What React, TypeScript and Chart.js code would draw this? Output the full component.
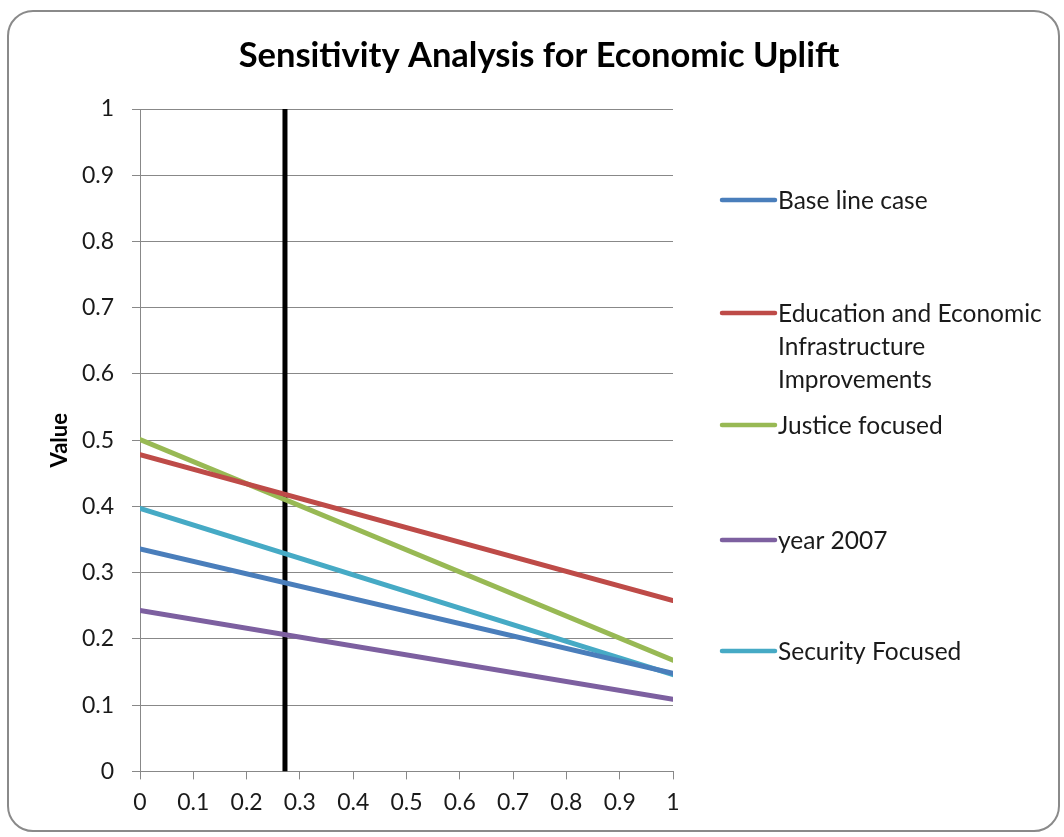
import React, { useEffect, useRef } from "react";
import { Chart, registerables } from "chart.js";

Chart.register(...registerables);

const xValues = [0, 1];
const seriesNames = [
  "Base line case",
  "Education and Economic\nInfrastructure\nImprovements",
  "Justice focused",
  "year 2007",
  "Security Focused",
];
const baseLine = [0.336, 0.148];
const education = [0.478, 0.258];
const justice = [0.501, 0.168];
const year2007 = [0.243, 0.109];
const security = [0.397, 0.146];
const seriesValues = [baseLine, education, justice, year2007, security];
const seriesColors = ["#4A7EBB", "#BE4B48", "#98B954", "#7D60A0", "#46AAC5"];
const markerX = [0.272, 0.272];
const markerY = [0, 1];
const titleText = "Sensitivity Analysis for Economic Uplift";
const yTitle = "Value";

const FONT = "Lato, 'Open Sans', sans-serif";

const fmt = (v: any) => String(Number(Number(v).toFixed(1)));

const legendPlugin = {
  id: "sideLegend",
  afterDraw(chart: any) {
    const ctx = chart.ctx;
    const rows = [200, 313, 425, 540, 651];
    const x0 = 722;
    const x1 = 775;
    ctx.save();
    ctx.font = `24.5px ${FONT}`;
    ctx.textBaseline = "middle";
    ctx.textAlign = "left";
    let k = 0;
    chart.data.datasets.forEach((ds: any) => {
      if (!ds.legendText) return;
      const y = rows[k++];
      ctx.strokeStyle = ds.borderColor;
      ctx.lineWidth = 4.5;
      ctx.lineCap = "round";
      ctx.beginPath();
      ctx.moveTo(x0, y);
      ctx.lineTo(x1, y);
      ctx.stroke();
      ctx.fillStyle = "#1a1a1a";
      String(ds.legendText)
        .split("\n")
        .forEach((line: string, i: number) => ctx.fillText(line, x1 + 3, y + 1 + i * 33));
    });
    ctx.font = `bold 34.5px ${FONT}`;
    ctx.fillStyle = "#000000";
    ctx.textAlign = "center";
    ctx.fillText(titleText, 539, 56);
    ctx.restore();
  },
};

export default function App() {
  const ref = useRef<HTMLCanvasElement>(null);
  useEffect(() => {
    if (!ref.current) return;
    const datasets: any[] = seriesValues.map((vals, i) => ({
      label: seriesNames[i].split("\n")[0],
      legendText: seriesNames[i],
      data: xValues.map((x, j) => ({ x, y: vals[j] })),
      borderColor: seriesColors[i],
      backgroundColor: seriesColors[i],
      borderWidth: 5,
      borderCapStyle: "round",
      pointRadius: 0,
      tension: 0,
    }));
    datasets.push({
      label: "marker",
      data: markerX.map((x, j) => ({ x, y: markerY[j] })),
      borderColor: "#000000",
      backgroundColor: "#000000",
      borderWidth: 5,
      borderCapStyle: "butt",
      pointRadius: 0,
    });
    const chart = new Chart(ref.current, {
      type: "line",
      data: { datasets },
      plugins: [legendPlugin],
      options: {
        animation: false,
        responsive: false,
        layout: { padding: { left: 43, right: 391, top: 109, bottom: 12 } },
        plugins: {
          legend: { display: false },
          tooltip: { enabled: false },
          title: { display: false },
        },
        scales: {
          x: {
            type: "linear",
            min: 0,
            max: 1,
            ticks: {
              stepSize: 0.1,
              color: "#1a1a1a",
              font: { family: FONT, size: 23 },
              padding: 9,
              maxRotation: 0,
              callback: fmt,
            },
            grid: {
              drawOnChartArea: false,
              drawTicks: true,
              tickLength: 8,
              color: "#888888",
            },
            border: { color: "#888888", width: 1 },
          },
          y: {
            min: 0,
            max: 1,
            afterFit(scale: any) {
              scale.width = 97;
            },
            ticks: {
              stepSize: 0.1,
              color: "#1a1a1a",
              font: { family: FONT, size: 23 },
              padding: 18,
              callback: fmt,
            },
            grid: { color: "#888888", tickLength: 8 },
            border: { color: "#888888", width: 1 },
            title: {
              display: true,
              text: yTitle,
              color: "#000000",
              font: { family: FONT, size: 22, weight: "bold" },
            },
          },
        },
      },
    } as any);
    return () => chart.destroy();
  }, []);
  return (
    <div style={{ position: "absolute", left: 0, top: 0, width: 1064, height: 837, background: "#fff" }}>
      <div
        style={{
          position: "absolute",
          left: 7,
          top: 10,
          width: 1053,
          height: 822,
          border: "2px solid #8a8a8a",
          borderRadius: 26,
          boxSizing: "border-box",
        }}
      />
      <canvas ref={ref} width={1064} height={837} style={{ position: "absolute", left: 0, top: 0 }} />
    </div>
  );
}
